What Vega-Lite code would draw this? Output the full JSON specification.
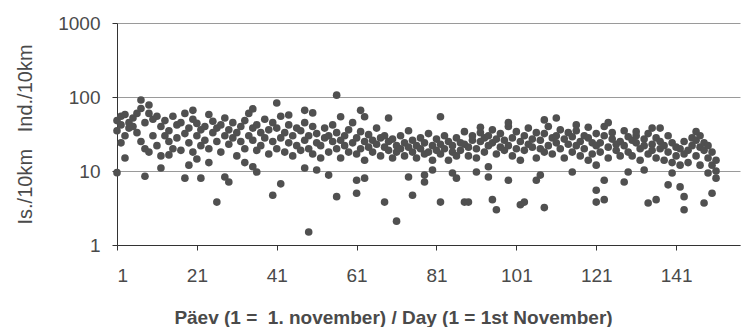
{
  "$schema": "https://vega.github.io/schema/vega-lite/v6.json",
  "autosize": "none",
  "width": 623,
  "height": 222,
  "padding": {"left": 117, "top": 23, "right": 10, "bottom": 82},
  "background": "white",
  "config": {"view": {"stroke": null}, "font": "Liberation Sans"},
  "data": {"values": [
    {"d":1,"v":35},{"d":1,"v":48},{"d":2,"v":42},{"d":2,"v":55},{"d":3,"v":30},{"d":3,"v":58},{"d":4,"v":45},{"d":4,"v":38},{"d":5,"v":52},{"d":5,"v":40},
    {"d":6,"v":33},{"d":6,"v":60},{"d":7,"v":25},{"d":7,"v":70},{"d":8,"v":20},{"d":8,"v":45},{"d":9,"v":18},{"d":9,"v":60},{"d":10,"v":30},{"d":10,"v":50},
    {"d":11,"v":22},{"d":11,"v":55},{"d":12,"v":16},{"d":12,"v":40},{"d":13,"v":48},{"d":13,"v":30},{"d":14,"v":35},{"d":14,"v":25},{"d":15,"v":55},{"d":15,"v":20},
    {"d":16,"v":28},{"d":16,"v":42},{"d":17,"v":45},{"d":17,"v":19},{"d":18,"v":32},{"d":18,"v":60},{"d":19,"v":24},{"d":19,"v":38},{"d":20,"v":50},{"d":20,"v":18},
    {"d":21,"v":30},{"d":21,"v":44},{"d":22,"v":22},{"d":22,"v":36},{"d":23,"v":40},{"d":23,"v":26},{"d":24,"v":58},{"d":24,"v":20},{"d":25,"v":33},{"d":25,"v":47},
    {"d":26,"v":25},{"d":26,"v":38},{"d":27,"v":18},{"d":27,"v":42},{"d":28,"v":30},{"d":28,"v":52},{"d":29,"v":23},{"d":29,"v":36},{"d":30,"v":45},{"d":30,"v":28},
    {"d":31,"v":16},{"d":31,"v":33},{"d":32,"v":40},{"d":32,"v":25},{"d":33,"v":20},{"d":33,"v":48},{"d":34,"v":30},{"d":34,"v":60},{"d":35,"v":26},{"d":35,"v":38},
    {"d":36,"v":42},{"d":36,"v":19},{"d":37,"v":33},{"d":37,"v":22},{"d":38,"v":50},{"d":38,"v":28},{"d":39,"v":17},{"d":39,"v":36},{"d":40,"v":25},{"d":40,"v":45},
    {"d":41,"v":38},{"d":41,"v":20},{"d":42,"v":28},{"d":42,"v":55},{"d":43,"v":18},{"d":43,"v":33},{"d":44,"v":42},{"d":44,"v":24},{"d":45,"v":30},{"d":45,"v":16},
    {"d":46,"v":22},{"d":46,"v":38},{"d":47,"v":35},{"d":47,"v":19},{"d":48,"v":26},{"d":48,"v":45},{"d":49,"v":20},{"d":49,"v":30},{"d":50,"v":17},{"d":50,"v":40},
    {"d":51,"v":32},{"d":51,"v":24},{"d":52,"v":22},{"d":52,"v":15},{"d":53,"v":38},{"d":53,"v":28},{"d":54,"v":18},{"d":54,"v":30},{"d":55,"v":25},{"d":55,"v":42},
    {"d":56,"v":20},{"d":56,"v":33},{"d":57,"v":15},{"d":57,"v":26},{"d":58,"v":30},{"d":58,"v":22},{"d":59,"v":36},{"d":59,"v":18},{"d":60,"v":24},{"d":60,"v":45},
    {"d":61,"v":28},{"d":61,"v":17},{"d":62,"v":20},{"d":62,"v":34},{"d":63,"v":25},{"d":63,"v":14},{"d":64,"v":31},{"d":64,"v":21},{"d":65,"v":18},{"d":65,"v":26},
    {"d":66,"v":23},{"d":66,"v":38},{"d":67,"v":16},{"d":67,"v":28},{"d":68,"v":21},{"d":68,"v":30},{"d":69,"v":19},{"d":69,"v":25},{"d":70,"v":27},{"d":70,"v":15},
    {"d":71,"v":22},{"d":71,"v":18},{"d":72,"v":30},{"d":72,"v":20},{"d":73,"v":16},{"d":73,"v":24},{"d":74,"v":21},{"d":74,"v":35},{"d":75,"v":26},{"d":75,"v":18},
    {"d":76,"v":15},{"d":76,"v":22},{"d":77,"v":20},{"d":77,"v":28},{"d":78,"v":24},{"d":78,"v":17},{"d":79,"v":18},{"d":79,"v":32},{"d":80,"v":22},{"d":80,"v":14},
    {"d":81,"v":27},{"d":81,"v":19},{"d":82,"v":17},{"d":82,"v":23},{"d":83,"v":20},{"d":83,"v":30},{"d":84,"v":14},{"d":84,"v":25},{"d":85,"v":22},{"d":85,"v":18},
    {"d":86,"v":28},{"d":86,"v":16},{"d":87,"v":19},{"d":87,"v":24},{"d":88,"v":23},{"d":88,"v":34},{"d":89,"v":16},{"d":89,"v":21},{"d":90,"v":26},{"d":90,"v":30},
    {"d":91,"v":20},{"d":91,"v":15},{"d":92,"v":25},{"d":92,"v":33},{"d":93,"v":18},{"d":93,"v":28},{"d":94,"v":30},{"d":94,"v":22},{"d":95,"v":24},{"d":95,"v":36},
    {"d":96,"v":17},{"d":96,"v":27},{"d":97,"v":32},{"d":97,"v":21},{"d":98,"v":26},{"d":98,"v":19},{"d":99,"v":22},{"d":99,"v":40},{"d":100,"v":28},{"d":100,"v":16},
    {"d":101,"v":34},{"d":101,"v":20},{"d":102,"v":25},{"d":102,"v":14},{"d":103,"v":19},{"d":103,"v":30},{"d":104,"v":38},{"d":104,"v":23},{"d":105,"v":21},{"d":105,"v":27},
    {"d":106,"v":15},{"d":106,"v":33},{"d":107,"v":26},{"d":107,"v":20},{"d":108,"v":32},{"d":108,"v":18},{"d":109,"v":22},{"d":109,"v":40},{"d":110,"v":17},{"d":110,"v":28},
    {"d":111,"v":30},{"d":111,"v":24},{"d":112,"v":20},{"d":112,"v":36},{"d":113,"v":27},{"d":113,"v":15},{"d":114,"v":23},{"d":114,"v":33},{"d":115,"v":18},{"d":115,"v":29},
    {"d":116,"v":35},{"d":116,"v":22},{"d":117,"v":25},{"d":117,"v":16},{"d":118,"v":20},{"d":118,"v":30},{"d":119,"v":28},{"d":119,"v":14},{"d":120,"v":17},{"d":120,"v":24},
    {"d":121,"v":32},{"d":121,"v":22},{"d":122,"v":24},{"d":122,"v":18},{"d":123,"v":30},{"d":123,"v":40},{"d":124,"v":21},{"d":124,"v":15},{"d":125,"v":27},{"d":125,"v":33},
    {"d":126,"v":19},{"d":126,"v":23},{"d":127,"v":25},{"d":127,"v":16},{"d":128,"v":22},{"d":128,"v":35},{"d":129,"v":29},{"d":129,"v":18},{"d":130,"v":16},{"d":130,"v":26},
    {"d":131,"v":24},{"d":131,"v":30},{"d":132,"v":20},{"d":132,"v":14},{"d":133,"v":27},{"d":133,"v":22},{"d":134,"v":17},{"d":134,"v":32},{"d":135,"v":23},{"d":135,"v":19},
    {"d":136,"v":28},{"d":136,"v":15},{"d":137,"v":20},{"d":137,"v":25},{"d":138,"v":14},{"d":138,"v":22},{"d":139,"v":18},{"d":139,"v":30},{"d":140,"v":24},{"d":140,"v":13},
    {"d":141,"v":16},{"d":141,"v":21},{"d":142,"v":20},{"d":142,"v":12},{"d":143,"v":17},{"d":143,"v":25},{"d":144,"v":13},{"d":144,"v":19},{"d":145,"v":22},{"d":145,"v":28},
    {"d":146,"v":26},{"d":146,"v":16},{"d":147,"v":30},{"d":147,"v":21},{"d":148,"v":19},{"d":148,"v":24},{"d":149,"v":15},{"d":149,"v":22},{"d":150,"v":18},{"d":150,"v":12},
    {"d":151,"v":14},{"d":151,"v":10},
    {"d":1,"v":9.5},{"d":3,"v":15},{"d":2,"v":24},{"d":7,"v":91},{"d":9,"v":78},{"d":8,"v":8.5},{"d":12,"v":11},{"d":14,"v":16.5},{"d":18,"v":8},{"d":22,"v":8},
    {"d":19,"v":12},{"d":21,"v":14.5},{"d":24,"v":13},{"d":26,"v":3.8},{"d":28,"v":8.3},{"d":29,"v":7.1},{"d":33,"v":13},{"d":35,"v":11.4},{"d":36,"v":9.7},{"d":40,"v":4.7},
    {"d":42,"v":6.7},{"d":48,"v":11},{"d":51,"v":10.3},{"d":35,"v":69},{"d":41,"v":83},{"d":48,"v":66},{"d":44,"v":57},{"d":20,"v":66},{"d":56,"v":106},{"d":50,"v":61},
    {"d":57,"v":54},{"d":62,"v":66},{"d":63,"v":54},{"d":69,"v":52},{"d":82,"v":54},{"d":99,"v":45},{"d":92,"v":39},{"d":54,"v":8.8},{"d":61,"v":7.5},{"d":63,"v":8},
    {"d":56,"v":4.5},{"d":61,"v":5},{"d":68,"v":3.8},{"d":74,"v":8.3},{"d":75,"v":4.7},{"d":78,"v":8.8},{"d":78,"v":7.1},{"d":80,"v":10.3},{"d":82,"v":3.8},{"d":85,"v":9.4},
    {"d":86,"v":8},{"d":88,"v":3.8},{"d":89,"v":3.8},{"d":91,"v":9.7},{"d":94,"v":11.4},{"d":94,"v":8.3},{"d":95,"v":4.1},{"d":96,"v":3.0},{"d":99,"v":7.5},{"d":71,"v":2.1},
    {"d":49,"v":1.5},{"d":102,"v":3.5},{"d":103,"v":3.8},{"d":108,"v":3.2},{"d":108,"v":49},{"d":111,"v":52},{"d":116,"v":42},{"d":119,"v":39},{"d":124,"v":45},{"d":131,"v":34},
    {"d":135,"v":38},{"d":137,"v":38},{"d":146,"v":34},{"d":106,"v":7.5},{"d":107,"v":8.8},{"d":115,"v":9.7},{"d":121,"v":12},{"d":123,"v":7.5},{"d":121,"v":5.5},{"d":121,"v":3.8},
    {"d":123,"v":4.1},{"d":128,"v":7.1},{"d":129,"v":9.7},{"d":133,"v":10.3},{"d":134,"v":3.7},{"d":136,"v":4.1},{"d":139,"v":6.5},{"d":140,"v":9.4},{"d":142,"v":6.1},{"d":143,"v":4.5},
    {"d":143,"v":3.0},{"d":147,"v":12},{"d":149,"v":9.4},{"d":151,"v":8},{"d":150,"v":5},{"d":148,"v":3.7}
  ]},
  "mark": {"type": "circle", "size": 58, "opacity": 1, "color": "#505050"},
  "encoding": {
    "x": {
      "field": "d", "type": "quantitative",
      "scale": {"domain": [1, 157], "nice": false, "zero": false},
      "axis": {
        "values": [1, 21, 41, 61, 81, 101, 121, 141],
        "grid": false, "domainColor": "#333", "tickColor": "#333", "tickSize": 5,
        "labelFontSize": 19, "labelColor": "#4a4a4a", "labelPadding": 16, "labelFont": "Liberation Sans",
        "title": "Päev (1 =\u00a0 1. november) / Day (1 = 1st November)",
        "titleFontSize": 19, "titleFontWeight": "bold", "titleColor": "#4a4a4a", "titleFont": "Liberation Sans",
        "titleX": 276, "titleY": 72, "titleAlign": "center", "titleBaseline": "middle"
      }
    },
    "y": {
      "field": "v", "type": "quantitative",
      "scale": {"type": "log", "domain": [1, 1000], "nice": false},
      "axis": {
        "values": [1, 10, 100, 1000], "format": "d",
        "grid": true, "gridColor": "#9a9a9a", "gridWidth": 1,
        "domainColor": "#333", "tickColor": "#333", "tickSize": 5,
        "labelFontSize": 19, "labelColor": "#4a4a4a", "labelPadding": 12, "labelFont": "Liberation Sans",
        "title": "Is./10km\u00a0\u00a0 Ind./10km",
        "titleFontSize": 20, "titleFontWeight": "normal", "titleColor": "#4a4a4a", "titleFont": "Liberation Sans",
        "titleX": -92, "titleY": 111, "titleAngle": -90, "titleAlign": "center", "titleBaseline": "middle"
      }
    }
  }
}
